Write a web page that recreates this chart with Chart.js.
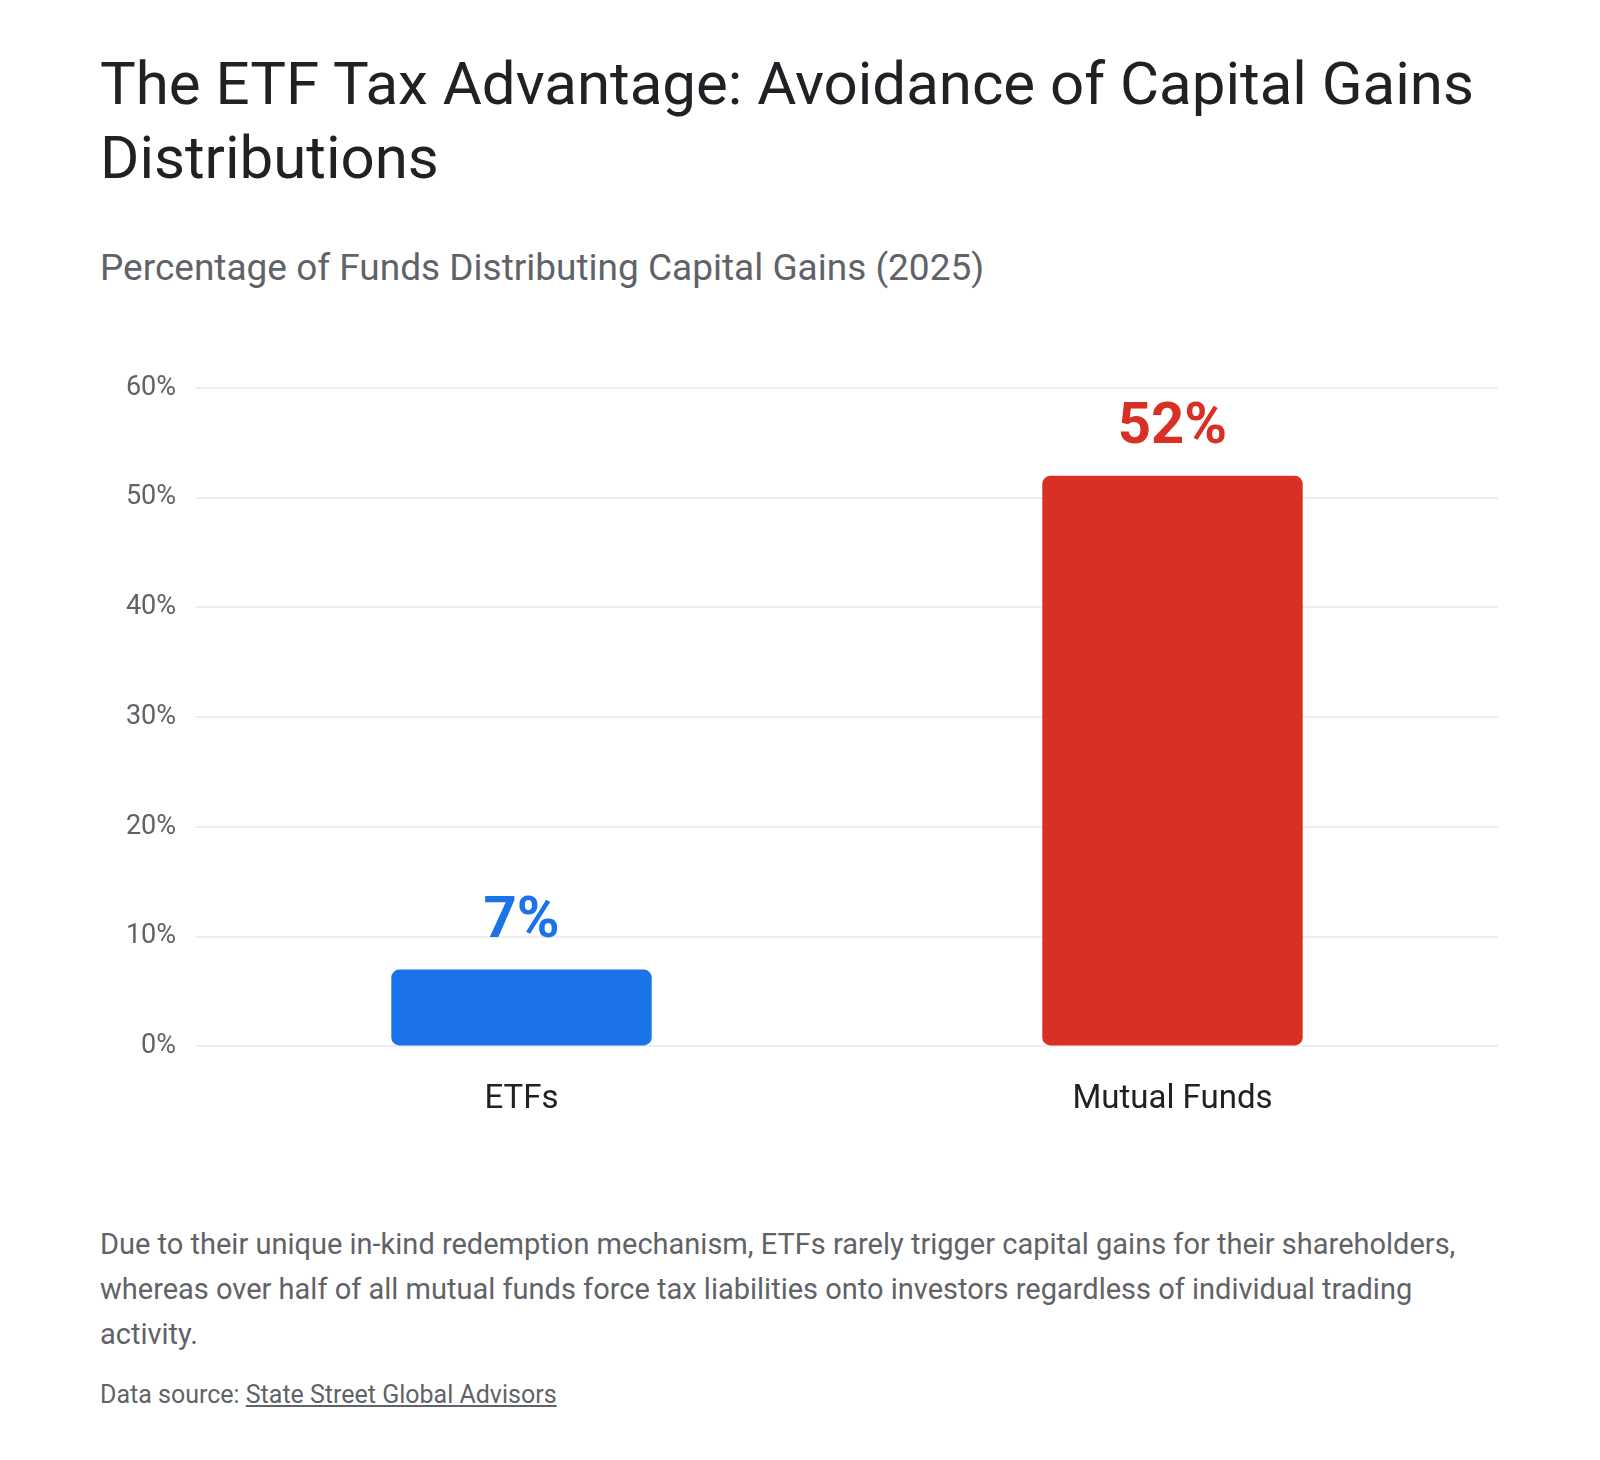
<!DOCTYPE html>
<html>
<head>
<meta charset="utf-8">
<script src="https://cdn.jsdelivr.net/npm/chart.js@4.4.1/dist/chart.umd.min.js"></script>
<style>
  html, body { margin: 0; padding: 0; background: #ffffff; }
  body { width: 1600px; height: 1460px; position: relative; overflow: hidden; font-family: Roboto, "Noto Sans", sans-serif; }
  .title { position: absolute; left: 100px; top: 47px; font-size: 60px; line-height: 74px; color: #202124; font-weight: 400; white-space: nowrap; margin: 0; }
  .subtitle { position: absolute; left: 100px; top: 246px; font-size: 37px; line-height: 44px; color: #5f6368; white-space: nowrap; margin: 0; }
  .chartwrap { position: absolute; left: 100px; top: 340px; width: 1400px; height: 836px; }
  .desc { position: absolute; left: 100px; top: 1222px; width: 1460px; font-size: 29px; line-height: 45px; color: #5f6368; margin: 0; white-space: nowrap; }
  .source { position: absolute; left: 100px; top: 1380px; font-size: 25px; line-height: 30px; color: #5f6368; white-space: nowrap; margin: 0; }
  .source a { color: #5f6368; text-decoration: underline; }
</style>
</head>
<body>
<h1 class="title">The ETF Tax Advantage: Avoidance of Capital Gains<br>Distributions</h1>
<div class="subtitle">Percentage of Funds Distributing Capital Gains (2025)</div>
<div class="chartwrap"><canvas id="c"></canvas></div>
<p class="desc">Due to their unique in-kind redemption mechanism, ETFs rarely trigger capital gains for their shareholders,<br>whereas over half of all mutual funds force tax liabilities onto investors regardless of individual trading<br>activity.</p>
<div class="source">Data source: <a href="#">State Street Global Advisors</a></div>
<script>
const categories = ["ETFs", "Mutual Funds"];
const percentValues = [7, 52];
const barColors = ["#1a73e8", "#d93025"];
const yTickValues = [0, 10, 20, 30, 40, 50, 60];

const valueLabels = {
  id: "valueLabels",
  afterDatasetsDraw(chart) {
    const ctx = chart.ctx;
    const meta = chart.getDatasetMeta(0);
    ctx.save();
    ctx.font = "bold 58px Roboto, sans-serif";
    ctx.textAlign = "center";
    ctx.textBaseline = "alphabetic";
    meta.data.forEach((bar, i) => {
      ctx.fillStyle = barColors[i];
      ctx.fillText(percentValues[i] + "%", bar.x, bar.y - 33);
    });
    ctx.restore();
  }
};

new Chart(document.getElementById("c"), {
  type: "bar",
  data: {
    labels: categories,
    datasets: [{
      data: percentValues,
      backgroundColor: barColors,
      borderRadius: 8,
      borderSkipped: false,
      barPercentage: 0.4,
      categoryPercentage: 1.0
    }]
  },
  options: {
    responsive: true,
    maintainAspectRatio: false,
    animation: false,
    devicePixelRatio: 1,
    layout: { padding: { top: 48, right: 2, bottom: 22, left: 0 } },
    plugins: { legend: { display: false }, tooltip: { enabled: false } },
    scales: {
      x: {
        grid: { display: false, drawTicks: false },
        border: { display: false },
        ticks: { color: "#202124", font: { family: "Roboto", size: 33 }, padding: 34 }
      },
      y: {
        min: 0,
        max: 60,
        afterFit: (axis) => { axis.width = 96; },
        afterBuildTicks: (axis) => { axis.ticks = yTickValues.map(v => ({ value: v })); },
        grid: { color: "#eeeeee", lineWidth: 2, drawTicks: false },
        border: { display: false },
        ticks: {
          color: "#5f6368",
          font: { family: "Roboto", size: 27 },
          padding: 20,
          callback: (v) => v + "%"
        }
      }
    }
  },
  plugins: [valueLabels]
});
</script>
</body>
</html>
